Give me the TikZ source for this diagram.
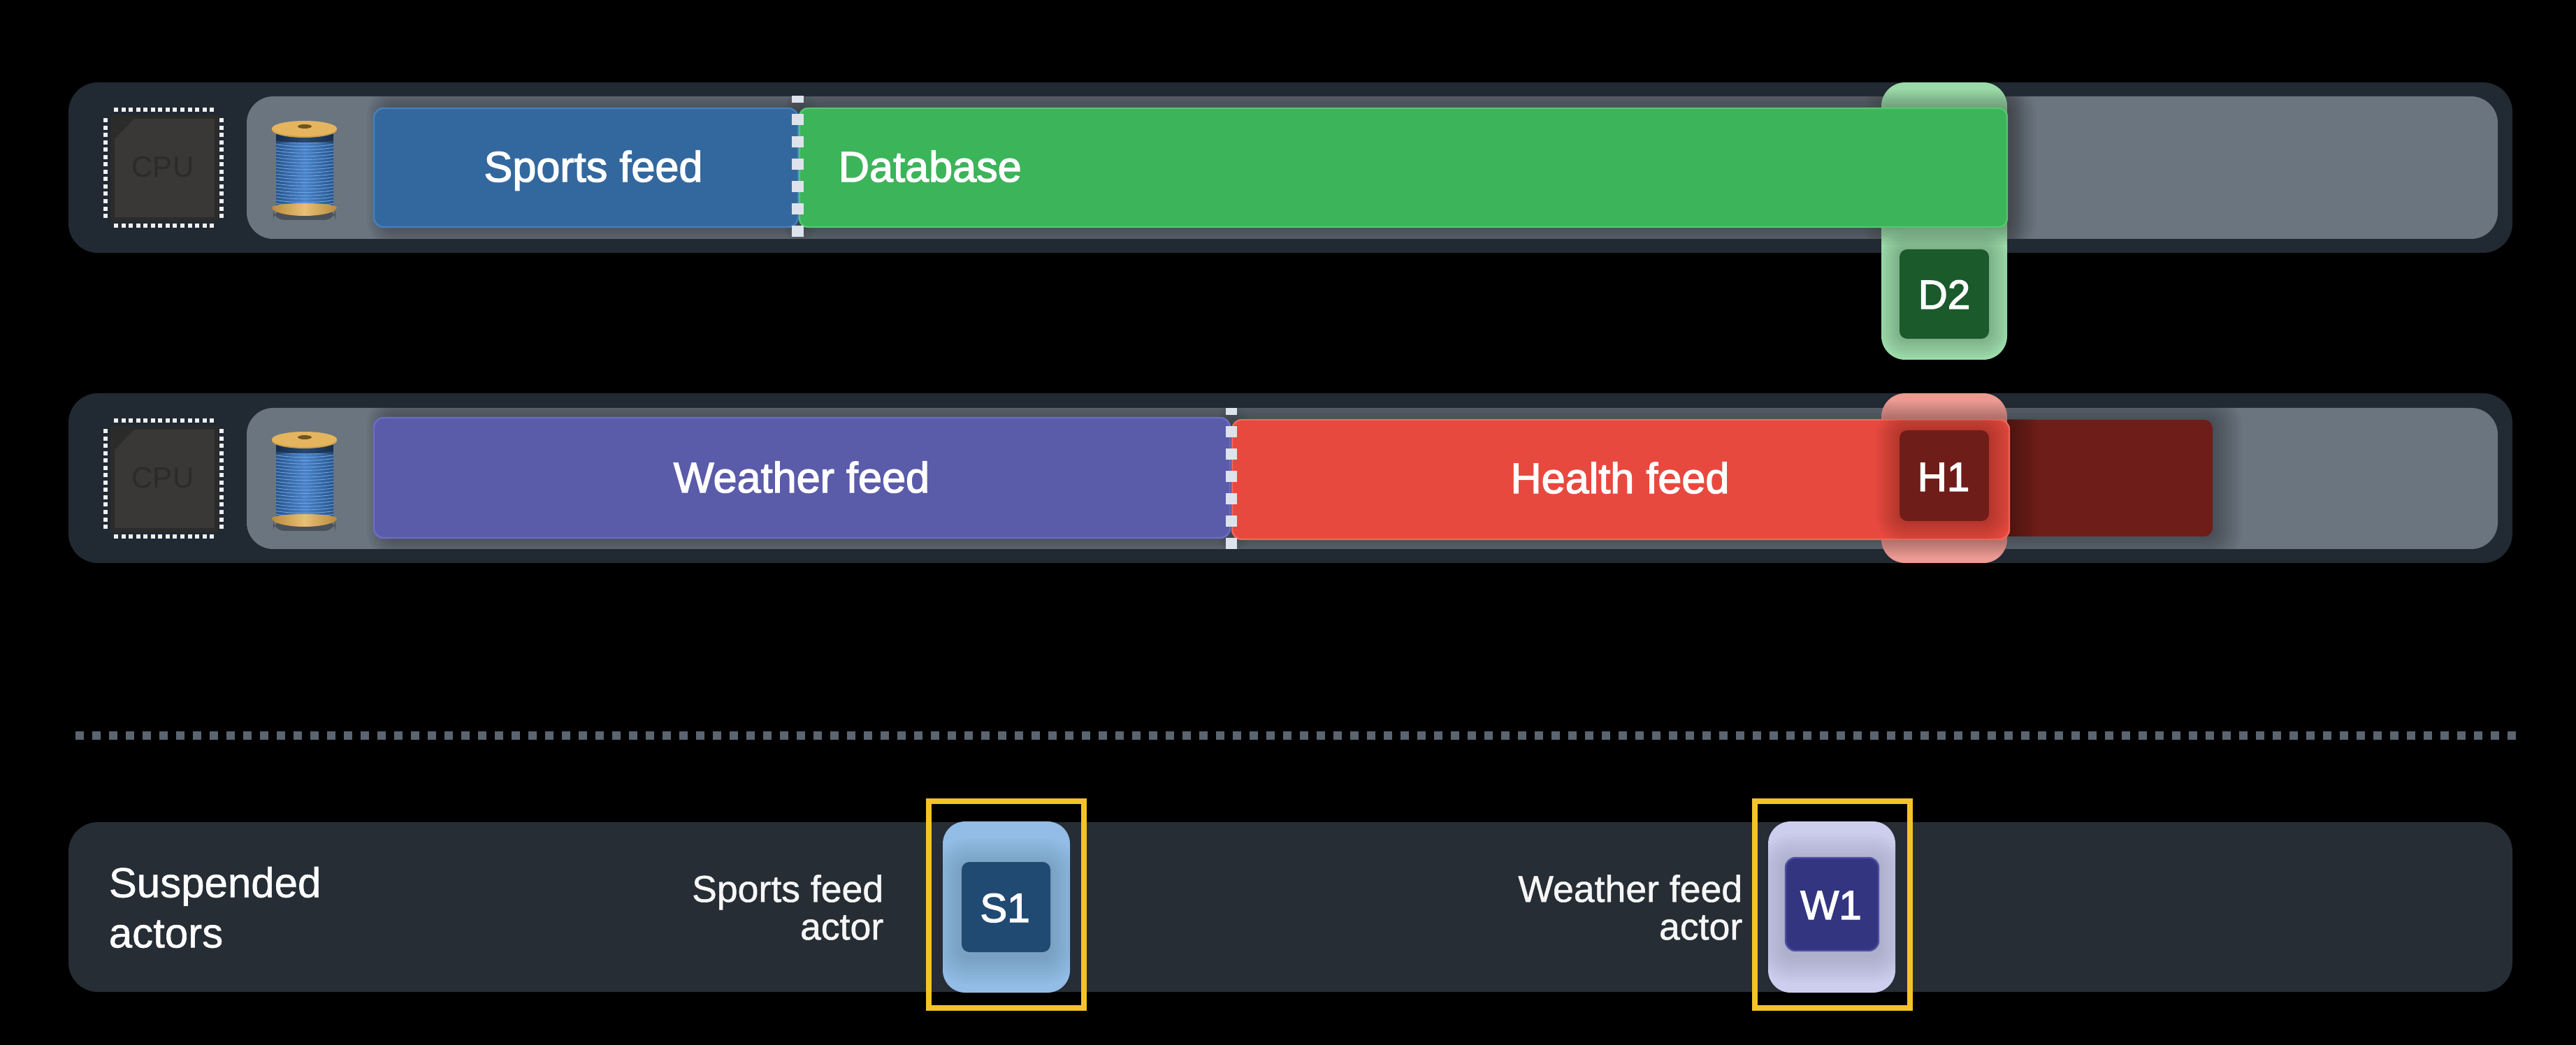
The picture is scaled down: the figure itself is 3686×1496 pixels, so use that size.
\documentclass[tikz,border=0pt]{standalone}
\usepackage{fontspec}
\setmainfont{Liberation Sans}
\newfontfamily\medfont[FakeBold=2.2]{Liberation Sans}
\newfontfamily\lightfont[FakeBold=1]{Liberation Sans}
\usetikzlibrary{calc}
\definecolor{panelc}{HTML}{212932}
\definecolor{trackc}{HTML}{6B7580}
\definecolor{bluebar}{HTML}{33689F}
\definecolor{blueline}{HTML}{4580BD}
\definecolor{greenbar}{HTML}{3CB45A}
\definecolor{greenline}{HTML}{55C770}
\definecolor{purplebar}{HTML}{5A5BA9}
\definecolor{purpleline}{HTML}{6C6CCB}
\definecolor{redbar}{HTML}{E8493F}
\definecolor{redline}{HTML}{F0685C}
\definecolor{darkred}{HTML}{6F1D19}
\definecolor{dashc}{HTML}{DDE3EC}
\definecolor{sepc}{HTML}{5B6570}
\definecolor{amber}{HTML}{F4C327}
\definecolor{greenhalo}{HTML}{9BDAA9}
\definecolor{redhalo}{HTML}{EC9A92}
\definecolor{bluehalo}{HTML}{93BCE6}
\definecolor{lilachalo}{HTML}{CDCEEE}
\definecolor{chipc}{HTML}{393836}
\definecolor{chipd}{HTML}{2B2B29}
\definecolor{flange}{HTML}{E4B45E}
\definecolor{flanged}{HTML}{B98B3C}
\definecolor{threadc}{HTML}{3A78C6}
\definecolor{threadl}{HTML}{7DB0E4}
\definecolor{HtmlD}{HTML}{1B5A2A}
\definecolor{HtmlP}{HTML}{262D35}
\definecolor{HtmlS}{HTML}{214A72}
\definecolor{HtmlW}{HTML}{333580}
\definecolor{HtmlWl}{HTML}{4E4FA6}
% 1 unit = 1 reference pixel = 0.25pt
\newcommand{\pxbox}[7]{% name, x1,y1,x2,y2, radius px, style
  \pgfmathsetmacro{\bw}{(#4-#2)*0.25}\pgfmathsetmacro{\bh}{(#5-#3)*0.25}%
  \pgfmathsetmacro{\brad}{#6*0.25}%
  \node[boxbase,minimum width=\bw pt,minimum height=\bh pt,rounded corners=\brad pt,#7] (#1) at ({(#2+#4)/2},{(#3+#5)/2}) {};}
\newcommand{\softshadow}[7]{% x1,y1,x2,y2, radius, extent, alpha
  \foreach \ii in {1,...,9}{%
    \pgfmathsetmacro{\ee}{#6*(10-\ii)/9}%
    \pgfmathsetmacro{\rr}{(#5+\ee)*0.25}%
    \fill[black,fill opacity=#7,rounded corners=\rr pt] ({#1-\ee},{#2-\ee}) rectangle ({#3+\ee},{#4+\ee});}}
\newcommand{\clipround}[5]{\pgfmathsetmacro{\rr}{#5*0.25}\clip[rounded corners=\rr pt] (#1,#2) rectangle (#3,#4);}
\newcommand{\chipspool}[2]{% suffix, y offset
  \begin{scope}[yshift={#2*-0.25pt}]
    % chip
    \pxbox{chip#1}{158}{165}{312}{317}{3}{fill=chipc}
    \fill[chipd] (158,165) -- (192,170) -- (164,199) -- (164,317) -- (158,317) -- cycle;
    \fill[chipd] (158,165) -- (312,165) -- (312,170) -- (192,170) -- cycle;
    \fill[chipd] (158,311) rectangle (312,317);
    \fill[chipd] (307,165) rectangle (312,317);
    \node[font=\fontsize{10.5pt}{10.5pt}\selectfont,text=chipd,inner sep=0] (cpu#1) at (233,239) {CPU};
    \foreach \k in {0,...,13}{
      \pgfmathsetmacro{\pa}{166+10.55*\k}
      \pgfmathsetmacro{\pb}{172+10.55*\k}
      \fill[pinc] ({\pa-3},154) rectangle ({\pa+3},160);
      \fill[pinc] ({\pa-3},320) rectangle ({\pa+3},326);
      \fill[pinc] (148,{\pb-3}) rectangle (154,{\pb+3});
      \fill[pinc] (314,{\pb-3}) rectangle (320,{\pb+3});
    }
    % spool
    \fill[black,fill opacity=.3,rounded corners=4pt] (391,300) rectangle (480,315);
    \shade[left color=threadc!70!black,right color=threadc!70!black,middle color=threadc!92!white] (395,192) rectangle (477,298);
    \foreach \k in {0,...,19}{
      \pgfmathsetmacro{\ya}{202+4.7*\k}
      \draw[threadl!80!threadc,line width=0.22pt] (395,\ya) .. controls (420,{\ya+4}) and (452,{\ya+4}) .. (477,\ya);
    }
    \fill[black,fill opacity=.45] (395,192) rectangle (477,204);
    \shade[left color=flanged,right color=flanged,middle color=flange!85!white] (389,297) arc[start angle=180,end angle=0,x radius=46.5,y radius=12] -- (482,297) arc[start angle=0,end angle=-180,x radius=46.5,y radius=6] -- cycle;
    \fill[flange!50!flanged] (389,184) -- (389,186) arc[start angle=180,end angle=0,x radius=46.5,y radius=11] -- (482,184) -- cycle;
    \fill[flange] (435.5,184) ellipse[x radius=46.5,y radius=11];
    \fill[flanged!60!black] (436,181) ellipse[x radius=10,y radius=3];
  \end{scope}}
\tikzset{
  boxbase/.style={draw=none,inner sep=0,outer sep=0,shape=rectangle},
  barline/.style={draw=#1,line width=0.6pt},
  pinc/.style={fill=white!88!gray},
  labelw/.style={text=white,inner sep=0,anchor=base,font=\medfont\fontsize{15.3pt}{15.3pt}\selectfont},
  tagw/.style={text=white,inner sep=0,anchor=base,font=\medfont\fontsize{14.6pt}{14.6pt}\selectfont},
  dashsq/.style={fill=dashc},
  sepsq/.style={fill=sepc},
  sidew/.style={text=white,inner sep=0,align=left,anchor=west,font=\lightfont\fontsize{15pt}{18pt}\selectfont},
  actorw/.style={text=white!93!gray,inner sep=0,align=right,anchor=east,font=\lightfont\fontsize{13.4pt}{13.5pt}\selectfont},
  yellowframe/.style={draw=amber,line width=2.1pt,fill=none}
}
\begin{document}
\begin{tikzpicture}[x=0.25pt,y=-0.25pt]
\fill[black] (0,0) rectangle (3686,1496);
\useasboundingbox (0,0) rectangle (3686,1496);

%% ---------- row 1
\pxbox{paneltop}{98}{118}{3595}{362}{42}{fill=panelc}
\pxbox{tracktop}{353}{138}{3574}{342}{38}{fill=trackc}
\begin{scope}
  \clipround{353}{138}{3574}{342}{38}
  \softshadow{555}{155}{1142}{325}{10}{30}{.03}
  \softshadow{1164}{155}{2872}{325}{10}{42}{.035}
  \softshadow{2692}{118}{2872}{515}{30}{24}{.012}
\end{scope}
\chipspool{A}{0}
\pxbox{sports}{535}{155}{1142}{325}{14}{fill=bluebar,barline=blueline}
\pxbox{haloD}{2692}{118}{2872}{515}{34}{fill=greenhalo}
\begin{scope}
  \clipround{2692}{118}{2872}{515}{34}
  \softshadow{2692}{155}{2872}{325}{10}{26}{.032}
  \softshadow{2718}{357}{2846}{485}{10}{26}{.018}
\end{scope}
\pxbox{database}{1144}{155}{2872}{325}{12}{fill=greenbar,barline=greenline}
\pxbox{boxD}{2718}{357}{2846}{485}{11}{fill=HtmlD}
\node[tagw] (textD) at (2782,442) {D2};
\node[labelw] (textS) at (849,260) {Sports feed};
\node[labelw,anchor=base west] (textDB) at (1199,260) {Database};
\foreach \yy/\hh in {142/10,171/16,203/16,235/16,267/16,299/16,331/16}
  \fill[dashsq] (1133,{\yy-\hh/2}) rectangle (1150,{\yy+\hh/2});

%% ---------- row 2
\pxbox{panelmid}{98}{563}{3595}{806}{42}{fill=panelc}
\pxbox{trackmid}{353}{584}{3574}{786}{38}{fill=trackc}
\begin{scope}
  \clipround{353}{584}{3574}{786}{38}
  \softshadow{555}{598}{1760}{770}{10}{30}{.03}
  \softshadow{1783}{601}{3166}{768}{10}{42}{.035}
\end{scope}
\chipspool{B}{445}
\pxbox{weather}{535}{598}{1760}{770}{14}{fill=purplebar,barline=purpleline}
\pxbox{darktail}{2700}{601}{3166}{768}{12}{fill=darkred}
\pxbox{haloH}{2692}{563}{2872}{806}{34}{fill=redhalo}
\begin{scope}
  \clipround{2692}{563}{2872}{806}{34}
  \softshadow{2692}{601}{2872}{771}{10}{26}{.032}
\end{scope}
\begin{scope}
  \clipround{2872}{601}{3166}{768}{0}
  \softshadow{2700}{601}{2875}{772}{10}{40}{.03}
\end{scope}
\pxbox{health}{1763}{601}{2875}{772}{14}{fill=redbar,barline=redline}
\begin{scope}
  \clipround{1763}{601}{2875}{772}{14}
  \softshadow{2718}{616}{2846}{746}{10}{34}{.022}
\end{scope}
\pxbox{boxH}{2718}{616}{2846}{746}{11}{fill=darkred}
\node[tagw] (textH) at (2781,703) {H1};
\node[labelw] (textW) at (1147,705) {Weather feed};
\node[labelw] (textHF) at (2318,706) {Health feed};
\foreach \yy/\hh in {589/10,618/16,650/16,682/16,714/16,746/16,778/16}
  \fill[dashsq] (1754,{\yy-\hh/2}) rectangle (1770,{\yy+\hh/2});

%% ---------- separator
\foreach \k in {0,...,145}{
  \pgfmathsetmacro{\sx}{114+24*\k}
  \fill[sepsq] ({\sx-6},1047) rectangle ({\sx+6},1059);
}

%% ---------- suspended actors
\pxbox{panelbot}{98}{1177}{3595}{1420}{42}{fill=HtmlP}
\node[sidew] (susp) at (155,1299) {Suspended\\actors};
\node[actorw] (lblS) at (1265,1299) {Sports feed\\actor};
\node[actorw] (lblW) at (2494,1299) {Weather feed\\actor};

\pxbox{haloS}{1349}{1176}{1531}{1421}{32}{fill=bluehalo}
\begin{scope}
  \clipround{1349}{1176}{1531}{1421}{32}
  \softshadow{1376}{1240}{1503}{1369}{10}{40}{.016}
\end{scope}
\pxbox{boxS}{1376}{1234}{1503}{1363}{11}{fill=HtmlS}
\node[tagw] (textS1) at (1438,1320) {S1};
\pxbox{frameS}{1329}{1147}{1551}{1443}{0}{yellowframe}

\pxbox{haloW}{2530}{1176}{2712}{1421}{32}{fill=lilachalo}
\begin{scope}
  \clipround{2530}{1176}{2712}{1421}{32}
  \softshadow{2555}{1234}{2688}{1367}{10}{40}{.016}
\end{scope}
\pxbox{boxW}{2555}{1228}{2688}{1361}{14}{fill=HtmlW,draw=HtmlWl,line width=0.6pt}
\node[tagw] (textW1) at (2620,1316) {W1};
\pxbox{frameW}{2511}{1147}{2733}{1443}{0}{yellowframe}
\end{tikzpicture}
\end{document}
